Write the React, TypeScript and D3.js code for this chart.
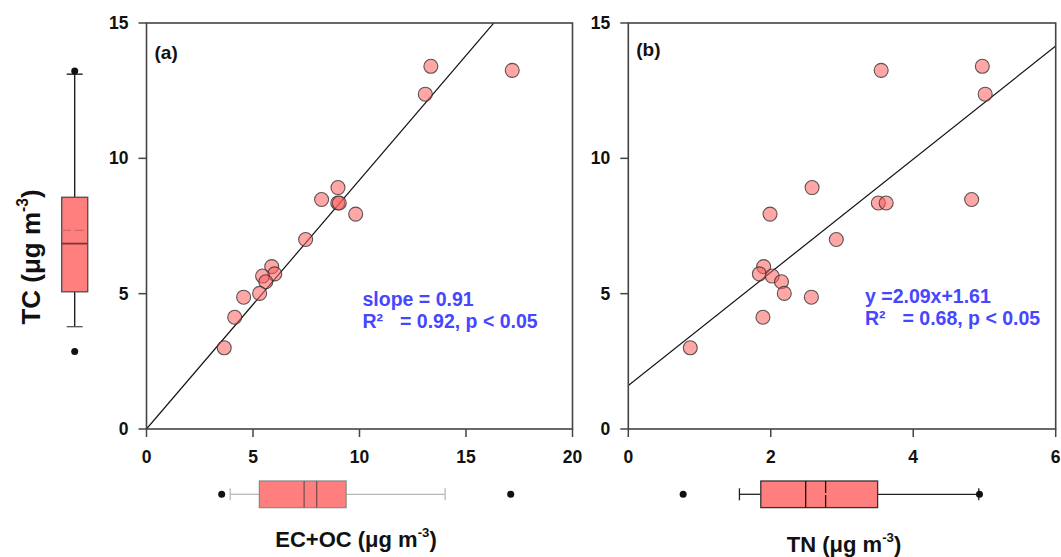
import * as d3 from 'd3'

const TC = [13.40, 13.25, 12.37, 8.92, 8.48, 8.35, 8.35, 7.94, 7.00, 6.00, 5.73, 5.65, 5.44, 5.01, 4.87, 4.13, 3.00]
const ECOC = [13.35, 17.17, 13.09, 8.99, 8.22, 8.98, 9.05, 9.82, 7.47, 5.88, 6.02, 5.45, 5.60, 5.31, 4.56, 4.14, 3.65]
const TN = [4.97, 3.55, 5.01, 2.58, 4.82, 3.51, 3.62, 1.99, 2.92, 1.90, 1.84, 2.02, 2.15, 2.19, 2.57, 1.89, 0.87]

const Y_TICKS = [0, 5, 10, 15]
const X_TICKS_A = [0, 5, 10, 15, 20]
const X_TICKS_B = [0, 2, 4, 6]

const FIT_A = { slope: 0.92, intercept: 0 }
const FIT_B = { slope: 2.09, intercept: 1.61 }

const TC_BOX = { lowOut: 2.86, lo: 3.78, q1: 5.07, median: 6.85, mean: 7.34, q3: 8.56, hi: 13.11, highOut: 13.23 }
const ECOC_BOX = { lowOut: 3.53, lo: 3.93, q1: 5.30, median: 7.40, mean: 7.99, q3: 9.37, hi: 14.02, highOut: 17.10 }
const TN_BOX = { lowOut: 0.77, lo: 1.56, q1: 1.86, median: 2.49, mean: 2.77, q3: 3.50, hi: 4.92, highOut: 4.93 }

const FONT = '"Liberation Sans", Arial, sans-serif'
const BLUE = '#4646ff'
const AXIS = '#444'
const W = 1061
const H = 557

const TOP = 23
const BOTTOM = 429

type Scale = d3.ScaleLinear<number, number>
type Box = typeof TC_BOX

function Panel({ id, x, y, xs, ticks, fit, tag, tagY }: {
  id: string, x: Scale, y: Scale, xs: number[], ticks: number[],
  fit: { slope: number, intercept: number }, tag: string, tagY: number
}) {
  const [l, r] = x.range()
  const [x0, x1] = x.domain()
  return (
    <g>
      <defs>
        <clipPath id={id}><rect x={l} y={TOP} width={r - l} height={BOTTOM - TOP} /></clipPath>
      </defs>
      <line clipPath={`url(#${id})`} x1={x(x0)} y1={y(fit.intercept + fit.slope * x0)}
        x2={x(x1)} y2={y(fit.intercept + fit.slope * x1)} stroke="#111" strokeWidth={1.2} />
      {xs.map((v, i) => (
        <circle key={i} cx={x(v)} cy={y(TC[i])} r={7} fill="#ff5c5c" fillOpacity={0.55}
          stroke="#333" strokeOpacity={0.8} strokeWidth={1.1} />
      ))}
      <rect x={l} y={TOP} width={r - l} height={BOTTOM - TOP} fill="none" stroke={AXIS} strokeWidth={1.6} />
      {Y_TICKS.map(t => (
        <g key={t}>
          <line x1={l - 8} x2={l} y1={y(t)} y2={y(t)} stroke={AXIS} strokeWidth={1.5} />
          <text x={l - 18} y={y(t) + 6} textAnchor="end" fontSize={17.5} fontWeight="bold"
            fontFamily={FONT} fill="#111">{t}</text>
        </g>
      ))}
      {ticks.map(t => (
        <g key={t}>
          <line x1={x(t)} x2={x(t)} y1={BOTTOM} y2={BOTTOM + 8} stroke={AXIS} strokeWidth={1.5} />
          <text x={x(t)} y={BOTTOM + 34} textAnchor="middle" fontSize={17.5} fontWeight="bold"
            fontFamily={FONT} fill="#111">{t}</text>
        </g>
      ))}
      <text x={l + 8} y={tagY} fontSize={19} fontWeight="bold" fontFamily={FONT} fill="#111">{tag}</text>
    </g>
  )
}

function Annotation({ x, y, first, second }: { x: number, y: number, first: string, second: string }) {
  return (
    <g fontFamily={FONT} fontWeight="bold" fontSize={19.5} fill={BLUE}>
      <text x={x} y={y}>{first}</text>
      <text x={x} y={y + 22}>
        R²
        <tspan x={x + 37.5}>{second}</tspan>
      </text>
    </g>
  )
}

function HBox({ x, cy, s, whisker, edge, inner, dashMean }: {
  x: Scale, cy: number, s: Box, whisker: string, edge: string, inner: string, dashMean?: boolean
}) {
  const hh = 13.3
  return (
    <g>
      <line x1={x(s.lo)} x2={x(s.q1)} y1={cy} y2={cy} stroke={whisker} strokeWidth={1.3} />
      <line x1={x(s.q3)} x2={x(s.hi)} y1={cy} y2={cy} stroke={whisker} strokeWidth={1.3} />
      <line x1={x(s.lo)} x2={x(s.lo)} y1={cy - 6} y2={cy + 6} stroke={whisker} strokeWidth={1.3} />
      <line x1={x(s.hi)} x2={x(s.hi)} y1={cy - 6} y2={cy + 6} stroke={whisker} strokeWidth={1.3} />
      <rect x={x(s.q1)} y={cy - hh} width={x(s.q3) - x(s.q1)} height={hh * 2} fill="#ff7f7f" stroke={edge} strokeWidth={1.3} />
      <line x1={x(s.median)} x2={x(s.median)} y1={cy - hh} y2={cy + hh} stroke={inner} strokeWidth={1.3} />
      <line x1={x(s.mean)} x2={x(s.mean)} y1={cy - hh} y2={cy + hh} stroke={inner} strokeWidth={1.3}
        strokeDasharray={dashMean ? '12,2' : undefined} />
      <circle cx={x(s.lowOut)} cy={cy} r={3.5} fill="#111" />
      <circle cx={x(s.highOut)} cy={cy} r={3.5} fill="#111" />
    </g>
  )
}

function VBox({ y, cx, s }: { y: Scale, cx: number, s: Box }) {
  const hw = 13
  return (
    <g>
      <line x1={cx} x2={cx} y1={y(s.lo)} y2={y(s.q1)} stroke="#111" strokeWidth={1.3} />
      <line x1={cx} x2={cx} y1={y(s.q3)} y2={y(s.hi)} stroke="#111" strokeWidth={1.3} />
      <line x1={cx - 8} x2={cx + 8} y1={y(s.lo)} y2={y(s.lo)} stroke="#555" strokeWidth={1.3} />
      <line x1={cx - 8} x2={cx + 8} y1={y(s.hi)} y2={y(s.hi)} stroke="#111" strokeWidth={1.3} />
      <rect x={cx - hw} y={y(s.q3)} width={hw * 2} height={y(s.q1) - y(s.q3)} fill="#ff7f7f" stroke="#555" strokeWidth={1.4} />
      <line x1={cx - hw} x2={cx + hw} y1={y(s.median)} y2={y(s.median)} stroke="#7a3535" strokeWidth={1.8} />
      <line x1={cx - hw} x2={cx + hw} y1={y(s.mean)} y2={y(s.mean)} stroke="#cf6a6a" strokeWidth={1.3} strokeDasharray="9,4" />
      <circle cx={cx} cy={y(s.lowOut)} r={3.5} fill="#111" />
      <circle cx={cx} cy={y(s.highOut)} r={3.5} fill="#111" />
    </g>
  )
}

function Title({ x, y, text, rotate, size }: { x: number, y: number, text: string, rotate?: boolean, size: number }) {
  return (
    <text x={x} y={y} textAnchor="middle" fontFamily={FONT} fontWeight="bold" fontSize={size} fill="#111"
      transform={rotate ? `rotate(-90 ${x} ${y})` : undefined}>
      {text} (μg m<tspan fontSize={size * 0.6} dy={-size * 0.45}>-3</tspan><tspan dy={size * 0.45}>)</tspan>
    </text>
  )
}

export default function App() {
  const y = d3.scaleLinear().domain([0, 15]).range([BOTTOM, TOP])
  const xa = d3.scaleLinear().domain([0, 20]).range([146.5, 572.5])
  const xb = d3.scaleLinear().domain([0, 6]).range([628.3, 1055.7])

  return (
    <svg width={W} height={H} viewBox={`0 0 ${W} ${H}`}
      style={{ position: 'absolute', left: 0, top: 0, background: '#fff' }}>
      <Panel id="clipA" x={xa} y={y} xs={ECOC} ticks={X_TICKS_A} fit={FIT_A} tag="(a)" tagY={59} />
      <Panel id="clipB" x={xb} y={y} xs={TN} ticks={X_TICKS_B} fit={FIT_B} tag="(b)" tagY={56} />
      <Annotation x={362.5} y={306} first="slope = 0.91" second="= 0.92, p < 0.05" />
      <Annotation x={865} y={303} first="y =2.09x+1.61" second="= 0.68, p < 0.05" />
      <VBox y={y} cx={74.7} s={TC_BOX} />
      <HBox x={xa} cy={494.3} s={ECOC_BOX} whisker="#b8b8b8" edge="#8a8a8a" inner="#7a5050" />
      <HBox x={xb} cy={494.3} s={TN_BOX} whisker="#222" edge="#333" inner="#111" dashMean />
      <Title x={40} y={257} text="TC" rotate size={26} />
      <Title x={356} y={547} text="EC+OC" size={22} />
      <Title x={844} y={552} text="TN" size={22} />
    </svg>
  )
}
